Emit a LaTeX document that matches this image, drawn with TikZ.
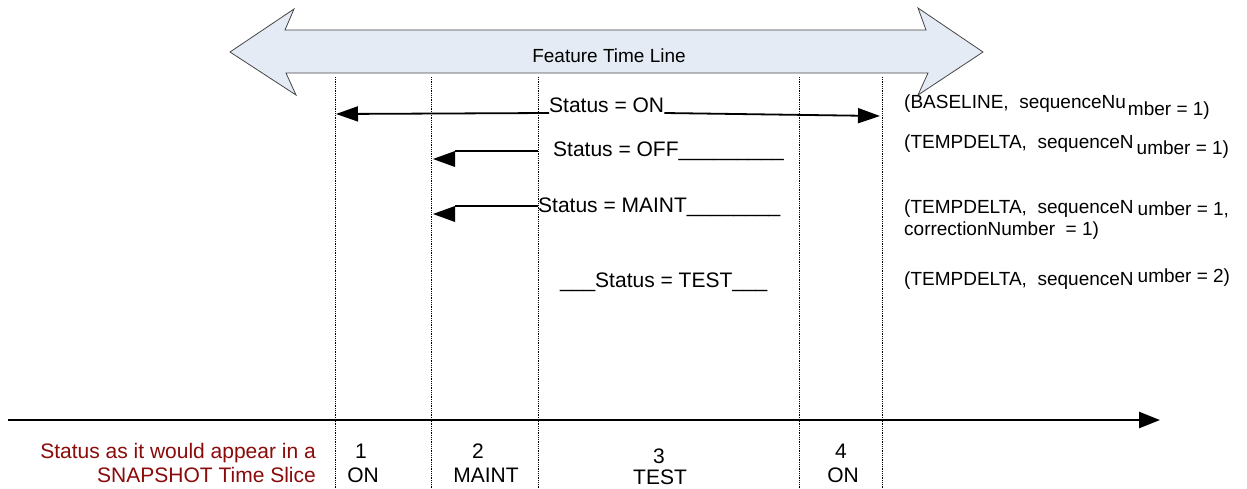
\documentclass[tikz,border=0pt]{standalone}
\usepackage{fontspec}
\setmainfont{Liberation Sans}
\usetikzlibrary{arrows.meta}
\definecolor{snapred}{RGB}{139,10,10}
\definecolor{bandfill}{RGB}{229,235,245}
\definecolor{bandline}{RGB}{70,70,70}
\begin{document}
\begin{tikzpicture}[x=1pt,y=-1pt,
  ftl/.style={font=\fontsize{19}{23}\selectfont, inner sep=0pt},
  stat/.style={font=\fontsize{21}{25}\selectfont, inner sep=0pt, anchor=base west},
  lab/.style={font=\fontsize{19}{23}\selectfont, inner sep=0pt, anchor=base west},
  slice/.style={font=\fontsize{21}{25}\selectfont, inner sep=0pt, anchor=base},
  snap/.style={font=\fontsize{21}{25}\selectfont, inner sep=0pt, anchor=base east, text=snapred},
  guide/.style={densely dotted, line width=0.8pt},
  conn/.style={line width=1.8pt},
  tipL/.style={-{Triangle[length=22pt,width=15pt]}},
  axis/.style={line width=2.5pt, -{Triangle[length=21pt,width=16pt]}}]
\fill[white] (0,0) rectangle (1247,488);
\useasboundingbox (0,0) rectangle (1247,488);

% feature time line band
\draw[fill=bandfill, draw=bandline, line width=0.8pt]
  (230,52) -- (294,9) -- (285,30) -- (926,30) -- (918,8) -- (983,52)
  -- (918,95) -- (928,73) -- (286,73) -- (296,95) -- cycle;
\node[ftl] (ftl) at (609,56) {Feature Time Line};

% dotted guides
\foreach \x in {335,431,538,799,882} \draw[guide] (\x,77) -- (\x,488);

% Status = ON
\node[stat] (on) at (549,112) {Status = ON};
\coordinate (onL) at (336,114);
\coordinate (onR) at (880,116);
\draw[conn, tipL] ([yshift=-1pt]on.base west) -- (onL);
\draw[conn, tipL] ([yshift=-1pt]on.base east) -- (onR);

% Status = OFF
\node[stat] (off) at (553,156) {Status = OFF\_\_\_\_\_\_\_\_\_};
\coordinate (offS) at (538,151);
\coordinate (offB) at (455,151);
\draw[conn] (offS) -- (offB);
\fill (offB) -- ++(0,16) -- ++(-22,-8) -- cycle;

% Status = MAINT
\node[stat] (maint) at (538,212) {Status = MAINT\_\_\_\_\_\_\_\_};
\coordinate (maS) at (538,206);
\coordinate (maB) at (455,206);
\draw[conn] (maS) -- (maB);
\fill (maB) -- ++(0,16) -- ++(-22,-8) -- cycle;

% Status = TEST
\node[stat] (test) at (560,287) {\_\_\_Status = TEST\_\_\_};

% right-hand labels
\node[lab] (l1) at (904,108) {(BASELINE,\ \ sequenceNu\hspace{2pt}\raisebox{-7pt}{mber = 1)}};
\node[lab] (l2) at (904,148) {(TEMPDELTA,\ \ sequenceN\hspace{3pt}\raisebox{-6pt}{umber = 1)}};
\node[lab] (l3) at (904,213) {(TEMPDELTA,\ \ sequenceN\hspace{4pt}\raisebox{-2pt}{umber = 1,}};
\node[lab] (l3b) at (904,235) {correctionNumber\ \ = 1)};
\node[lab] (l4) at (904,285) {(TEMPDELTA,\ \ sequenceN\hspace{4pt}\raisebox{3pt}{umber = 2)}};

% time axis
\coordinate (axL) at (8,420);
\coordinate (axR) at (1160,420);
\draw[axis] (axL) -- (axR);

% snapshot labels
\node[snap] (s1) at (316,458) {Status as it would appear in a};
\node[snap] (s2) at (316,482) {SNAPSHOT Time Slice};
\node[slice] (n1) at (361,458) {1};
\node[slice] (v1) at (363,482) {ON};
\node[slice] (n2) at (478,458) {2};
\node[slice] (v2) at (486,482) {MAINT};
\node[slice] (n3) at (659,463) {3};
\node[slice] (v3) at (660,484) {TEST};
\node[slice] (n4) at (841,458) {4};
\node[slice] (v4) at (843,482) {ON};
\end{tikzpicture}
\end{document}
